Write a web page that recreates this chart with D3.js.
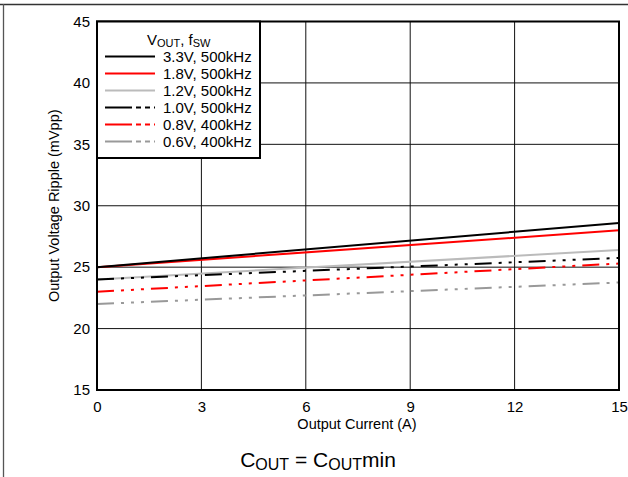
<!DOCTYPE html>
<html><head><meta charset="utf-8">
<script src="https://cdn.jsdelivr.net/npm/d3@7"></script>
<style>body{margin:0;background:#fff}svg{display:block;font-family:"Liberation Sans",Arial,sans-serif}</style>
</head><body>
<script>
const currents = [0, 15];
const seriesNames = ["3.3V, 500kHz","1.8V, 500kHz","1.2V, 500kHz","1.0V, 500kHz","0.8V, 400kHz","0.6V, 400kHz"];
const ripple33 = [25.0, 28.6];
const ripple18 = [25.0, 28.0];
const ripple12 = [24.0, 26.4];
const ripple10 = [24.0, 25.75];
const ripple08 = [23.0, 25.3];
const ripple06 = [22.0, 23.75];
const xTicks = [0,3,6,9,12,15];
const yTicks = [15,20,25,30,35,40,45];

const W=628,H=477;
const svg=d3.select("body").append("svg").attr("width",W).attr("height",H);
const m={l:97,r:619,t:21.5,b:390};
const x=d3.scaleLinear().domain([0,15]).range([m.l,m.r]);
const y=d3.scaleLinear().domain([15,45]).range([m.b,m.t]);
const FF="Liberation Sans, Arial, sans-serif";

// outer frame
svg.append("line").attr("x1",0).attr("x2",W).attr("y1",4.5).attr("y2",4.5).attr("stroke","#333").attr("stroke-width",1.3);
svg.append("line").attr("x1",3.5).attr("x2",3.5).attr("y1",4).attr("y2",H).attr("stroke","#555").attr("stroke-width",1.3);

// grid
const g=svg.append("g");
g.selectAll(".vg").data(xTicks.slice(1,-1)).join("line").attr("x1",d=>x(d)).attr("x2",d=>x(d)).attr("y1",m.t).attr("y2",m.b).attr("stroke","#111").attr("stroke-width",1);
g.selectAll(".hg").data(yTicks.slice(1,-1)).join("line").attr("y1",d=>y(d)).attr("y2",d=>y(d)).attr("x1",m.l).attr("x2",m.r).attr("stroke","#111").attr("stroke-width",1);

// axes labels
const xAxis=d3.axisBottom(x).tickValues(xTicks).tickSize(0).tickPadding(11);
const yAxis=d3.axisLeft(y).tickValues(yTicks).tickSize(0).tickPadding(7);
svg.append("g").attr("transform",`translate(0,${m.b})`).call(xAxis).call(s=>{s.select(".domain").remove();s.selectAll("text").attr("font-size",15).attr("fill","#000").attr("font-family",FF);});
svg.append("g").attr("transform",`translate(${m.l},0)`).call(yAxis).call(s=>{s.select(".domain").remove();s.selectAll("text").attr("font-size",15).attr("fill","#000").attr("font-family",FF);});

svg.append("text").attr("x",357).attr("y",429).attr("text-anchor","middle").attr("font-size",14.5).text("Output Current (A)");
svg.append("text").attr("transform",`translate(59,${(m.t+m.b)/2}) rotate(-90)`).attr("text-anchor","middle").attr("font-size",14.5).text("Output Voltage Ripple (mVpp)");

// data lines
const series=[
 {name:seriesNames[0],vals:ripple33,color:"#000",dash:null},
 {name:seriesNames[1],vals:ripple18,color:"#f00",dash:null},
 {name:seriesNames[2],vals:ripple12,color:"#bbb",dash:null},
 {name:seriesNames[3],vals:ripple10,color:"#000",dash:"17,7,3,7,3,7,3,7"},
 {name:seriesNames[4],vals:ripple08,color:"#f00",dash:"17,7,3,7,3,7,3,7"},
 {name:seriesNames[5],vals:ripple06,color:"#999",dash:"17,7,3,7,3,7,3,7"}
];
const line=d3.line().x(d=>x(d[0])).y(d=>y(d[1]));
const order=[2,5,4,3,1,0];
order.forEach(i=>{const s=series[i];
 svg.append("path").datum(currents.map((c,j)=>[c,s.vals[j]])).attr("d",line).attr("fill","none").attr("stroke",s.color).attr("stroke-width",2).attr("stroke-dasharray",s.dash);
});

// plot border
svg.append("rect").attr("x",m.l).attr("y",m.t).attr("width",m.r-m.l).attr("height",m.b-m.t).attr("fill","none").attr("stroke","#000").attr("stroke-width",2);

// legend
const lg=svg.append("g");
lg.append("rect").attr("x",m.l).attr("y",m.t).attr("width",163).attr("height",136.5).attr("fill","#fff").attr("stroke","#000").attr("stroke-width",2);
const tt=lg.append("text").attr("x",147).attr("y",45).attr("font-size",15);
tt.append("tspan").text("V");
tt.append("tspan").attr("font-size",11).attr("dy",2).text("OUT");
tt.append("tspan").attr("dy",-2).text(", f");
tt.append("tspan").attr("font-size",11).attr("dy",2).text("SW");
series.forEach((s,i)=>{
 const yy=56.5+i*17;
 lg.append("line").attr("x1",105).attr("x2",155).attr("y1",yy).attr("y2",yy).attr("stroke",s.color).attr("stroke-width",2).attr("stroke-dasharray",s.dash?"27,4,5,4,5,4,5":null);
 lg.append("text").attr("x",163).attr("y",yy+5).attr("font-size",15).text(s.name);
});

// caption
const cap=svg.append("text").attr("x",318).attr("y",467).attr("text-anchor","middle").attr("font-size",21);
cap.append("tspan").text("C");
cap.append("tspan").attr("font-size",16).attr("dy",3).text("OUT");
cap.append("tspan").attr("dy",-3).text(" = C");
cap.append("tspan").attr("font-size",16).attr("dy",3).text("OUT");
cap.append("tspan").attr("dy",-3).text("min");
</script>
</body></html>
